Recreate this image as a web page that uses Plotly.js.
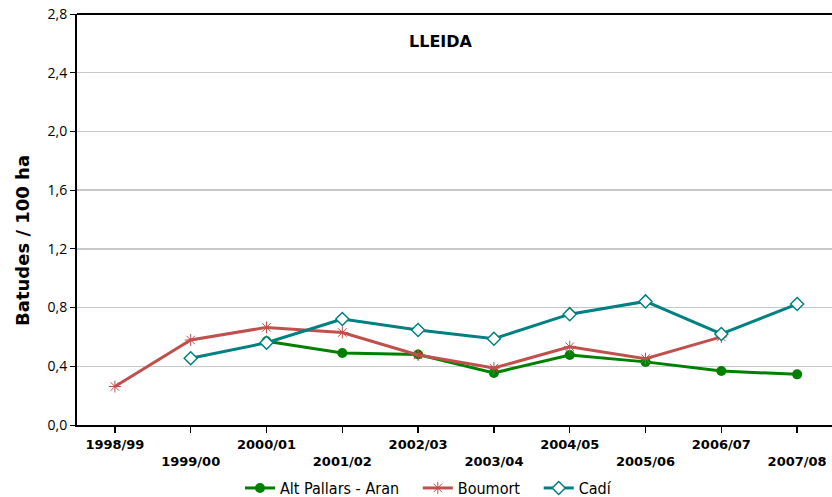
<!DOCTYPE html>
<html>
<head>
<meta charset="utf-8">
<script src="https://cdn.plot.ly/plotly-3.0.1.min.js"></script>
<style>html,body{margin:0;padding:0;background:#fff;}#chart{width:832px;height:497px;}</style>
</head>
<body>
<div id="chart"></div>
<script>
const categories = ["1998/99","1999/00","2000/01","2001/02","2002/03","2003/04","2004/05","2005/06","2006/07","2007/08"];
const altPallars = [null, null, 0.57, 0.49, 0.48, 0.355, 0.477, 0.43, 0.368, 0.345];
const boumort = [0.262, 0.579, 0.665, 0.63, 0.477, 0.388, 0.533, 0.452, 0.60, null];
const cadi = [null, 0.455, 0.56, 0.722, 0.647, 0.588, 0.755, 0.842, 0.62, 0.824];
const yTicks = [0, 0.4, 0.8, 1.2, 1.6, 2.0, 2.4, 2.8];
const seriesNames = ["Alt Pallars - Aran", "Boumort", "Cadí"];
const tickLabels = categories.map((c, i) => i % 2 === 0 ? c : "<br>" + c);

const legendFont = "Liberation Sans Narrow, DejaVu Sans Condensed, sans-serif";
const traces = [
  {x: categories, y: altPallars, name: seriesNames[0] + "\u00a0\u00a0\u00a0", mode: "lines+markers",
   line: {color: "#008000", width: 3}, marker: {symbol: "circle", size: 10, color: "#008000"}},
  {x: categories, y: boumort, name: seriesNames[1] + "\u00a0\u00a0\u00a0", mode: "lines+markers",
   line: {color: "#c0504d", width: 3}, marker: {symbol: "asterisk-open", size: 10, color: "#c0504d", line: {color: "#d9534f", width: 1}}},
  {x: categories, y: cadi, name: seriesNames[2], mode: "lines+markers",
   line: {color: "#008080", width: 3}, marker: {symbol: "diamond", size: 10, color: "#ffffff", line: {color: "#008080", width: 1.5}}}
];

const layout = {
  width: 832, height: 497,
  margin: {l: 77, r: 0, t: 14, b: 72, autoexpand: false},
  paper_bgcolor: "#fff", plot_bgcolor: "#fff",
  separators: ",.",
  showlegend: true,
  legend: {orientation: "h", x: 0.515, xref: "container", xanchor: "center", y: 0.018, yref: "container", yanchor: "middle",
    font: {family: legendFont, size: 16, color: "#000"},
    itemwidth: 30, traceorder: "normal"},
  xaxis: {
    type: "category", range: [-0.5, 9.46],
    tickmode: "array", tickvals: categories, ticktext: tickLabels,
    tickfont: {family: "DejaVu Sans, Verdana, sans-serif", size: 13, color: "#000", weight: "bold"},
    ticks: "outside", ticklen: 6, tickcolor: "#000", tickwidth: 1.5,
    showline: true, linecolor: "#000", linewidth: 2,
    showgrid: false, zeroline: false, fixedrange: true
  },
  yaxis: {
    range: [0, 2.8], tickmode: "array", tickvals: yTicks, tickformat: ".1f",
    tickfont: {family: "Open Sans, sans-serif", size: 14, color: "#000"},
    ticks: "outside", ticklen: 5, tickcolor: "#000",
    showline: true, linecolor: "#000", linewidth: 2,
    showgrid: true, gridcolor: "#c8c8c8", gridwidth: 1.5, zeroline: false
  },
  shapes: [{type: "line", xref: "paper", yref: "paper", x0: 0, x1: 1, y0: 1, y1: 1, line: {color: "#000", width: 2}}],
  annotations: [
    {text: "<b>LLEIDA</b>", xref: "paper", yref: "paper", x: 0.482, y: 0.934, yanchor: "middle", showarrow: false,
     font: {family: "DejaVu Sans, Verdana, sans-serif", size: 16, color: "#000"}},
    {text: "<b>Batudes / 100 ha</b>", xref: "paper", yref: "paper", x: -0.073, y: 0.45, xanchor: "center", yanchor: "middle",
     textangle: -90, showarrow: false,
     font: {family: "DejaVu Sans, Verdana, sans-serif", size: 18, color: "#000"}}
  ]
};

Plotly.newPlot("chart", traces, layout, {displayModeBar: false, staticPlot: true});
</script>
</body>
</html>
